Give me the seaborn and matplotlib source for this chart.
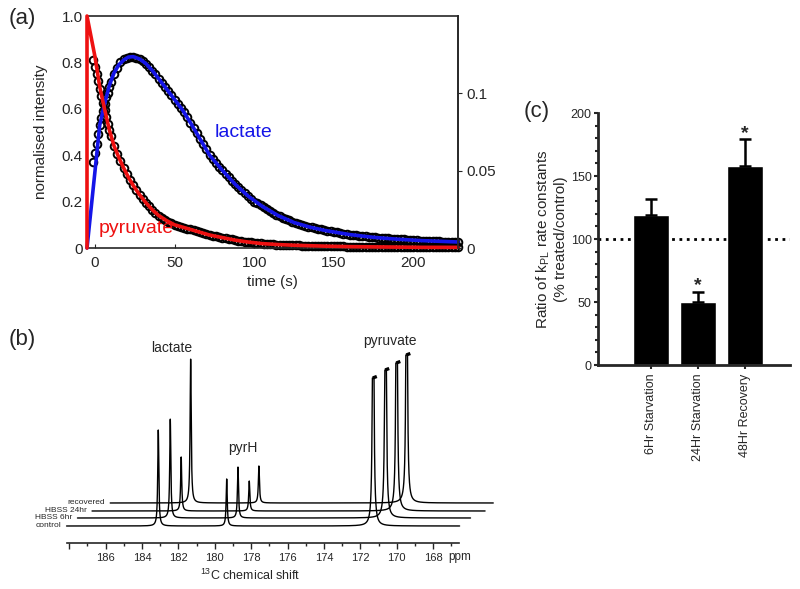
import numpy as np
import seaborn as sns
import matplotlib.pyplot as plt

sns.set_style("ticks")
plt.rcParams["font.family"] = ["Liberation Sans", "DejaVu Sans"]
plt.rcParams["mathtext.default"] = "regular"

# (a) normalised signal vs time: measured points (1 s then 2 s sampling) and model fits
time_s = list(range(-1, 11)) + list(range(12, 229, 2))
pyruvate_signal = [0.81, 0.78, 0.75, 0.72, 0.685, 0.655, 0.625, 0.595, 0.565,
                   0.535, 0.51, 0.485, 0.44, 0.405, 0.375, 0.345,
                   0.32, 0.295, 0.27, 0.25, 0.23, 0.212, 0.195, 0.18, 0.165,
                   0.152, 0.14, 0.131, 0.122, 0.114, 0.106, 0.10, 0.095, 0.091,
                   0.087, 0.083, 0.08, 0.076, 0.072, 0.068, 0.064, 0.06, 0.056,
                   0.053, 0.05, 0.047, 0.045, 0.042, 0.04, 0.037, 0.034, 0.032,
                   0.03, 0.028, 0.026, 0.024, 0.023, 0.021, 0.02, 0.018, 0.017,
                   0.016, 0.016, 0.015, 0.015, 0.014, 0.013, 0.012, 0.012,
                   0.011, 0.011, 0.01, 0.01, 0.01, 0.01, 0.009, 0.009, 0.008,
                   0.008, 0.008, 0.008, 0.007, 0.007, 0.007, 0.007, 0.006,
                   0.006, 0.006, 0.006, 0.006, 0.006, 0.005, 0.005, 0.005,
                   0.005, 0.005, 0.005, 0.005, 0.004, 0.004, 0.004, 0.004,
                   0.004, 0.004, 0.004, 0.004, 0.004, 0.004, 0.003, 0.003,
                   0.003, 0.003, 0.003, 0.003, 0.003, 0.003, 0.003, 0.003,
                   0.003, 0.003, 0.003]
lactate_signal = [0.37, 0.41, 0.45, 0.49, 0.53, 0.56, 0.59, 0.62, 0.65, 0.67,
                  0.695, 0.715, 0.75, 0.775, 0.80, 0.815,
                  0.82, 0.824, 0.825, 0.821, 0.815, 0.806, 0.795, 0.781, 0.765,
                  0.748, 0.73, 0.712, 0.695, 0.678, 0.66, 0.64, 0.62, 0.603,
                  0.585, 0.563, 0.54, 0.518, 0.495, 0.472, 0.45, 0.425, 0.40,
                  0.382, 0.365, 0.35, 0.335, 0.32, 0.305, 0.29, 0.275, 0.262,
                  0.25, 0.237, 0.225, 0.212, 0.20, 0.192, 0.185, 0.176, 0.168,
                  0.16, 0.152, 0.144, 0.137, 0.131, 0.125, 0.119, 0.113, 0.108,
                  0.104, 0.10, 0.096, 0.092, 0.089, 0.086, 0.083, 0.08, 0.077,
                  0.074, 0.072, 0.069, 0.067, 0.064, 0.062, 0.06, 0.058, 0.056,
                  0.055, 0.053, 0.052, 0.05, 0.049, 0.047, 0.046, 0.045, 0.044,
                  0.043, 0.042, 0.041, 0.04, 0.039, 0.038, 0.037, 0.036, 0.035,
                  0.034, 0.033, 0.032, 0.031, 0.031, 0.030, 0.030, 0.029,
                  0.029, 0.028, 0.028, 0.027, 0.027, 0.026, 0.026]
fit_time = [-5, 0, 3, 6, 9, 12, 15, 18, 21, 24, 28, 32, 36, 40, 45, 50, 55, 60,
            66, 72, 80, 88, 96, 105, 115, 125, 135, 145, 160, 175, 190, 205, 228]
pyruvate_fit = [1.0, 0.825, 0.695, 0.60, 0.51, 0.44, 0.39, 0.345, 0.305, 0.27,
                0.23, 0.195, 0.165, 0.14, 0.118, 0.10, 0.09, 0.08, 0.068, 0.056,
                0.045, 0.034, 0.026, 0.019, 0.015, 0.012, 0.01, 0.008, 0.006,
                0.005, 0.004, 0.003, 0.003]
lactate_fit = [0, 0.33, 0.53, 0.62, 0.70, 0.755, 0.79, 0.81, 0.823, 0.825,
               0.815, 0.795, 0.765, 0.73, 0.685, 0.64, 0.595, 0.54, 0.47, 0.40,
               0.335, 0.275, 0.225, 0.18, 0.14, 0.11, 0.09, 0.075, 0.058, 0.046,
               0.038, 0.032, 0.026]

# (b) stacked 13C spectra (peak positions in ppm, heights in plot units)
trace_names = ["control", "HBSS 6hr", "HBSS 24hr", "recovered"]
trace_start = [188.15, 187.55, 186.75, 185.75]
trace_end = [166.55, 165.95, 165.15, 164.7]
trace_base = [17, 25, 32, 40]
lactate_ppm = [183.11, 182.45, 181.85, 181.33]
lactate_height = [96, 99, 54, 144]
pyrh_ppm = [179.35, 178.73, 178.11, 177.58]
pyrh_height = [47, 51, 30, 37]
pyruvate_ppm = [171.30, 170.62, 170.01, 169.46]
pyruvate_height = [430, 430, 430, 430]
pyruvate_clip = 148

# (c) kPL ratios
conditions = ["6Hr Starvation", "24Hr Starvation", "48Hr Recovery"]
kpl_ratio = [119, 50, 158]
kpl_err = [13, 8, 21]
significant = [False, True, True]

RED = "#ee1111"
BLUE = "#1515e8"

fig = plt.figure(figsize=(8, 5.89), dpi=100)

# ---------------- panel (a) ----------------
ax_a = fig.add_axes([0.10875, 0.5789, 0.46375, 0.3939])
ax_a.plot(time_s, pyruvate_signal, "o", mfc="none", mec="black", ms=5.5,
          mew=1.4, zorder=2, clip_on=False)
ax_a.plot(time_s, lactate_signal, "o", mfc="none", mec="black", ms=5.5,
          mew=1.4, zorder=2, clip_on=False)
sns.lineplot(x=fit_time, y=lactate_fit, color=BLUE, lw=2.6, estimator=None,
             sort=False, ax=ax_a, zorder=3, clip_on=False)
sns.lineplot(x=[fit_time[0]] + fit_time, y=[0] + pyruvate_fit, color=RED,
             lw=2.6, estimator=None, sort=False, ax=ax_a, zorder=4,
             clip_on=False)
ax_a.set_xlim(-5, 228)
ax_a.set_ylim(0, 1)
ax_a.set_xticks([0, 50, 100, 150, 200])
ax_a.set_yticks([0, 0.2, 0.4, 0.6, 0.8, 1.0])
ax_a.set_yticklabels(["0", "0.2", "0.4", "0.6", "0.8", "1.0"])
ax_a.tick_params(axis="y", length=0, pad=3, labelsize=11)
ax_a.tick_params(axis="x", direction="in", length=3, pad=6, labelsize=11)
ax_a.set_xlabel("time (s)", fontsize=11, labelpad=3)
ax_a.set_ylabel("normalised intensity", fontsize=11, labelpad=10)
for sp in ax_a.spines.values():
    sp.set_linewidth(1.2)
ax_a.text(93, 0.5, "lactate", color=BLUE, fontsize=14, ha="center", va="center")
ax_a.text(26, 0.086, "pyruvate", color=RED, fontsize=14, ha="center",
          va="center", zorder=5)

ax_r = ax_a.twinx()
ax_r.set_ylim(0, 0.15)
ax_r.set_yticks([0, 0.05, 0.1])
ax_r.set_yticklabels(["0", "0.05", "0.1"])
ax_r.tick_params(axis="y", direction="out", length=3, pad=3, labelsize=11)
for name in ["top", "left", "bottom"]:
    ax_r.spines[name].set_visible(False)
ax_r.spines["right"].set_linewidth(1.2)

# ---------------- panel (b) ----------------
ax_b = fig.add_axes([0.075, 0.0781, 0.55, 0.3447])
hwhm = 0.035
for i, name in enumerate(trace_names):
    ppm = np.linspace(trace_start[i], trace_end[i], 6000)
    y = np.full_like(ppm, trace_base[i], dtype=float)
    for pos, h in [(lactate_ppm[i], lactate_height[i]),
                   (pyrh_ppm[i], pyrh_height[i]),
                   (pyruvate_ppm[i], pyruvate_height[i])]:
        y += h * hwhm ** 2 / ((ppm - pos) ** 2 + hwhm ** 2)
    top = trace_base[i] + pyruvate_clip
    y = np.minimum(y, top)
    ax_b.plot(ppm, y, color="black", lw=1.0, clip_on=False)
    ax_b.plot([pyruvate_ppm[i] + 0.02, pyruvate_ppm[i] - 0.2], [top, top + 1.5],
              color="black", lw=2.4, solid_capstyle="butt", clip_on=False)
    ax_b.annotate(name, (trace_start[i], trace_base[i]), xytext=(-4, 0),
                  textcoords="offset points", ha="right", va="center",
                  fontsize=6)

ax_b.set_xlim(188.51, 164.33)
ax_b.set_ylim(0, 203)
ax_b.set_yticks([])
for name in ["top", "left", "right"]:
    ax_b.spines[name].set_visible(False)
ax_b.spines["bottom"].set_bounds(188.14, 166.57)
ax_b.spines["bottom"].set_linewidth(1.2)
major = list(range(188, 167, -2))
ax_b.set_xticks(major)
ax_b.set_xticklabels([""] + [str(v) for v in major[1:]])
ax_b.set_xticks(list(range(187, 166, -2)), minor=True)
ax_b.tick_params(axis="x", which="major", direction="out", length=4, width=1,
                 labelsize=8, pad=3)
ax_b.tick_params(axis="x", which="minor", direction="out", length=2.5, width=1)
ax_b.text(166.55, -14, "ppm", fontsize=8.5, ha="center", va="center")
ax_b.text(178.07, -32, "$^{13}$C chemical shift", fontsize=9, ha="center",
          va="center")
ax_b.text(182.36, 195, "lactate", fontsize=10, ha="center", va="center")
ax_b.text(178.45, 95, "pyrH", fontsize=10, ha="center", va="center")
ax_b.text(170.38, 202, "pyruvate", fontsize=10, ha="center", va="center")

# ---------------- panel (c) ----------------
ax_c = fig.add_axes([0.7475, 0.3803, 0.24, 0.4278])
ax_c.axhline(100, color="black", ls=":", lw=2, zorder=0)
sns.barplot(x=conditions, y=kpl_ratio, color="black", width=0.77,
            saturation=1, ax=ax_c, zorder=2)
ax_c.errorbar(range(len(conditions)), kpl_ratio, yerr=[[0] * 3, kpl_err],
              fmt="none", ecolor="black", elinewidth=1.8, capsize=4,
              capthick=1.8, zorder=3)
for i, sig in enumerate(significant):
    if sig:
        ax_c.text(i, kpl_ratio[i] + kpl_err[i] + 5, "*", fontsize=14,
                  fontweight="bold", ha="center", va="center")
ax_c.set_xlim(-1.13, 2.96)
ax_c.set_ylim(0, 200)
ax_c.set_yticks([0, 50, 100, 150, 200])
ax_c.set_yticks(range(0, 201, 10), minor=True)
ax_c.tick_params(axis="y", which="major", length=3, width=1.5, labelsize=9,
                 pad=1.5)
ax_c.tick_params(axis="y", which="minor", length=2.5, width=1.5)
ax_c.tick_params(axis="x", length=3, width=1.5, labelsize=9, labelrotation=90,
                 pad=3)
ax_c.set_xlabel("")
ax_c.set_ylabel("Ratio of k$_{PL}$ rate constants\n(% treated/control)",
                fontsize=11, labelpad=2)
sns.despine(ax=ax_c)
for name in ["left", "bottom"]:
    ax_c.spines[name].set_linewidth(2)

fig.text(0.0275, 0.969, "(a)", fontsize=16, ha="center", va="center")
fig.text(0.0275, 0.423, "(b)", fontsize=16, ha="center", va="center")
fig.text(0.671, 0.81, "(c)", fontsize=16, ha="center", va="center")

fig.savefig("out.png", dpi=100)
